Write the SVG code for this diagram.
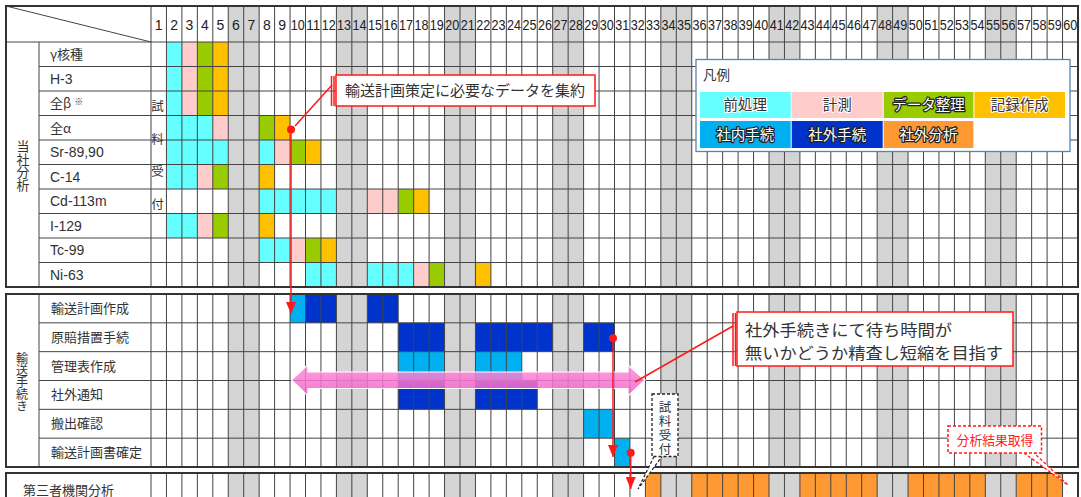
<svg xmlns="http://www.w3.org/2000/svg" width="1081" height="497" viewBox="0 0 1081 497">
<defs>
<style>
.gy{fill:#d4d4d4}
.cy{fill:#66ffff}.pk{fill:#ffcccc}.gr{fill:#99cc00}.yl{fill:#ffc000}.lb{fill:#00b0f0}.db{fill:#0033cc}.or{fill:#ff9933}
.grid{stroke:#444;stroke-width:1;fill:none}
.bd{stroke:#333;stroke-width:2;fill:none}
.jp{font-family:"Noto Sans CJK JP","Liberation Sans",sans-serif}
.num{font-family:"Liberation Sans","DejaVu Sans",sans-serif;font-size:14px;fill:#222}
.lbl{font-size:13px;fill:#333}
.lat{font-family:"Liberation Sans","Noto Sans CJK JP",sans-serif;font-size:14px;fill:#333}
.lg{font-size:14.5px;text-anchor:middle}
.wt{fill:#fff;stroke:#222;stroke-width:2.5;paint-order:stroke;stroke-linejoin:round}
.dk{fill:#333;stroke:#fff;stroke-width:2;paint-order:stroke}
.rl{stroke:#ff1a1a;stroke-width:1.5;fill:none}
.rd{fill:#ff1a1a}
.vt{writing-mode:vertical-rl;fill:#333}
</style>
<marker id="ah" markerUnits="userSpaceOnUse" markerWidth="13" markerHeight="10" refX="12" refY="5" orient="auto">
<path d="M0,0 L12,5 L0,10 z" fill="#ff1a1a"/>
</marker>
<linearGradient id="pg" x1="0" y1="0" x2="0" y2="1">
<stop offset="0" stop-color="#ff8fdc"/>
<stop offset="1" stop-color="#f25fc8"/>
</linearGradient>
</defs>
<rect x="0" y="0" width="1081" height="497" fill="#fff"/>

<g id="weekend-columns" class="gy" transform="translate(151 0) scale(15.45 1)">
<rect x="5" y="6" width="2" height="491"/><rect x="12" y="6" width="2" height="491"/>
<rect x="19" y="6" width="2" height="491"/><rect x="26" y="6" width="2" height="491"/>
<rect x="33" y="6" width="2" height="491"/><rect x="40" y="6" width="2" height="491"/>
<rect x="47" y="6" width="2" height="491"/><rect x="54" y="6" width="2" height="491"/>
</g>

<g id="in-house-cells" transform="translate(151 42) scale(15.45 24.5)">
<g id="row-gamma"><rect class="cy" x="1" y="0" width="1" height="1"/><rect class="pk" x="2" y="0" width="1" height="1"/><rect class="gr" x="3" y="0" width="1" height="1"/><rect class="yl" x="4" y="0" width="1" height="1"/></g>
<g id="row-h3"><rect class="cy" x="1" y="1" width="1" height="1"/><rect class="pk" x="2" y="1" width="1" height="1"/><rect class="gr" x="3" y="1" width="1" height="1"/><rect class="yl" x="4" y="1" width="1" height="1"/></g>
<g id="row-beta"><rect class="cy" x="1" y="2" width="1" height="1"/><rect class="pk" x="2" y="2" width="1" height="1"/><rect class="gr" x="3" y="2" width="1" height="1"/><rect class="yl" x="4" y="2" width="1" height="1"/></g>
<g id="row-alpha"><rect class="cy" x="1" y="3" width="3" height="1"/><rect class="pk" x="4" y="3" width="1" height="1"/><rect class="gr" x="7" y="3" width="1" height="1"/><rect class="yl" x="8" y="3" width="1" height="1"/></g>
<g id="row-sr"><rect class="cy" x="1" y="4" width="4" height="1"/><rect class="cy" x="7" y="4" width="1" height="1"/><rect class="pk" x="8" y="4" width="1" height="1"/><rect class="gr" x="9" y="4" width="1" height="1"/><rect class="yl" x="10" y="4" width="1" height="1"/></g>
<g id="row-c14"><rect class="cy" x="1" y="5" width="2" height="1"/><rect class="pk" x="3" y="5" width="1" height="1"/><rect class="gr" x="4" y="5" width="1" height="1"/><rect class="yl" x="7" y="5" width="1" height="1"/></g>
<g id="row-cd"><rect class="cy" x="7" y="6" width="5" height="1"/><rect class="pk" x="14" y="6" width="2" height="1"/><rect class="gr" x="16" y="6" width="1" height="1"/><rect class="yl" x="17" y="6" width="1" height="1"/></g>
<g id="row-i129"><rect class="cy" x="1" y="7" width="2" height="1"/><rect class="pk" x="3" y="7" width="1" height="1"/><rect class="gr" x="4" y="7" width="1" height="1"/><rect class="yl" x="7" y="7" width="1" height="1"/></g>
<g id="row-tc"><rect class="cy" x="7" y="8" width="2" height="1"/><rect class="pk" x="9" y="8" width="1" height="1"/><rect class="gr" x="10" y="8" width="1" height="1"/><rect class="yl" x="11" y="8" width="1" height="1"/></g>
<g id="row-ni"><rect class="cy" x="10" y="9" width="2" height="1"/><rect class="cy" x="14" y="9" width="3" height="1"/><rect class="pk" x="17" y="9" width="1" height="1"/><rect class="gr" x="18" y="9" width="1" height="1"/><rect class="yl" x="21" y="9" width="1" height="1"/></g>
</g>

<g id="transport-cells" transform="translate(151 294) scale(15.45 28.833)">
<g id="row-plan"><rect class="lb" x="9" y="0" width="1" height="1"/><rect class="db" x="10" y="0" width="2" height="1"/><rect class="db" x="14" y="0" width="2" height="1"/></g>
<g id="row-gensho"><rect class="db" x="16" y="1" width="3" height="1"/><rect class="db" x="21" y="1" width="5" height="1"/><rect class="db" x="28" y="1" width="2" height="1"/></g>
<g id="row-kanri"><rect class="lb" x="16" y="2" width="3" height="1"/><rect class="lb" x="21" y="2" width="3" height="1"/></g>
<g id="row-tsuchi"><rect class="db" x="16" y="3" width="3" height="1"/><rect class="db" x="21" y="3" width="4" height="1"/></g>
<g id="row-hanshutsu"><rect class="lb" x="28" y="4" width="2" height="1"/></g>
<g id="row-kakutei"><rect class="lb" x="30" y="5" width="1" height="1"/></g>
</g>

<g id="third-party-cells" class="or" transform="translate(151 473) scale(15.45 1)">
<rect x="32" y="0" width="1" height="24"/><rect x="35" y="0" width="5" height="24"/><rect x="42" y="0" width="5" height="24"/><rect x="49" y="0" width="5" height="24"/><rect x="56" y="0" width="3" height="24"/>
</g>

<g id="grid">
<path class="grid" d="M151 6V497M166.45 6V497M181.9 6V497M197.35 6V497M212.8 6V497M228.25 6V497M243.7 6V497M259.15 6V497M274.6 6V497M290.05 6V497M305.5 6V497M320.95 6V497M336.4 6V497M351.85 6V497M367.3 6V497M382.75 6V497M398.2 6V497M413.65 6V497M429.1 6V497M444.55 6V497M460 6V497M475.45 6V497M490.9 6V497M506.35 6V497M521.8 6V497M537.25 6V497M552.7 6V497M568.15 6V497M583.6 6V497M599.05 6V497M614.5 6V497M629.95 6V497M645.4 6V497M660.85 6V497M676.3 6V497M691.75 6V497M707.2 6V497M722.65 6V497M738.1 6V497M753.55 6V497M769 6V497M784.45 6V497M799.9 6V497M815.35 6V497M830.8 6V497M846.25 6V497M861.7 6V497M877.15 6V497M892.6 6V497M908.05 6V497M923.5 6V497M938.95 6V497M954.4 6V497M969.85 6V497M985.3 6V497M1000.75 6V497M1016.2 6V497M1031.65 6V497M1047.1 6V497M1062.55 6V497"/>
<path class="grid" d="M6 42H1078M39 66.5H1078M39 91H1078M39 115.5H1078M39 140H1078M39 164.5H1078M39 189H1078M39 213.5H1078M39 238H1078M39 262.5H1078M39 42V287M6 6L151 42"/>
<path class="grid" d="M39 322.83H1078M39 351.67H1078M39 380.5H1078M39 409.33H1078M39 438.17H1078M39 294V467"/>
<rect x="0" y="288" width="1081" height="5" fill="#fff"/>
<rect x="0" y="468" width="1081" height="4" fill="#fff"/>
<rect class="bd" x="6" y="6" width="1072" height="281"/>
<rect class="bd" x="6" y="294" width="1072" height="173"/>
<rect class="bd" x="6" y="473" width="1072" height="30"/>
</g>

<g id="day-numbers" class="num">
<text x="154.7" y="30">1</text><text x="170.2" y="30">2</text><text x="185.6" y="30">3</text><text x="201.1" y="30">4</text><text x="216.5" y="30">5</text><text x="232" y="30">6</text><text x="247.4" y="30">7</text><text x="262.9" y="30">8</text><text x="278.3" y="30">9</text>
<text x="290.8" y="30" textLength="14" lengthAdjust="spacingAndGlyphs">10</text><text x="306.2" y="30" textLength="14" lengthAdjust="spacingAndGlyphs">11</text><text x="321.7" y="30" textLength="14" lengthAdjust="spacingAndGlyphs">12</text><text x="337.1" y="30" textLength="14" lengthAdjust="spacingAndGlyphs">13</text><text x="352.6" y="30" textLength="14" lengthAdjust="spacingAndGlyphs">14</text><text x="368" y="30" textLength="14" lengthAdjust="spacingAndGlyphs">15</text><text x="383.5" y="30" textLength="14" lengthAdjust="spacingAndGlyphs">16</text><text x="398.9" y="30" textLength="14" lengthAdjust="spacingAndGlyphs">17</text><text x="414.4" y="30" textLength="14" lengthAdjust="spacingAndGlyphs">18</text><text x="429.8" y="30" textLength="14" lengthAdjust="spacingAndGlyphs">19</text>
<text x="445.3" y="30" textLength="14" lengthAdjust="spacingAndGlyphs">20</text><text x="460.7" y="30" textLength="14" lengthAdjust="spacingAndGlyphs">21</text><text x="476.2" y="30" textLength="14" lengthAdjust="spacingAndGlyphs">22</text><text x="491.6" y="30" textLength="14" lengthAdjust="spacingAndGlyphs">23</text><text x="507.1" y="30" textLength="14" lengthAdjust="spacingAndGlyphs">24</text><text x="522.5" y="30" textLength="14" lengthAdjust="spacingAndGlyphs">25</text><text x="538" y="30" textLength="14" lengthAdjust="spacingAndGlyphs">26</text><text x="553.4" y="30" textLength="14" lengthAdjust="spacingAndGlyphs">27</text><text x="568.9" y="30" textLength="14" lengthAdjust="spacingAndGlyphs">28</text><text x="584.3" y="30" textLength="14" lengthAdjust="spacingAndGlyphs">29</text>
<text x="599.8" y="30" textLength="14" lengthAdjust="spacingAndGlyphs">30</text><text x="615.2" y="30" textLength="14" lengthAdjust="spacingAndGlyphs">31</text><text x="630.7" y="30" textLength="14" lengthAdjust="spacingAndGlyphs">32</text><text x="646.1" y="30" textLength="14" lengthAdjust="spacingAndGlyphs">33</text><text x="661.6" y="30" textLength="14" lengthAdjust="spacingAndGlyphs">34</text><text x="677" y="30" textLength="14" lengthAdjust="spacingAndGlyphs">35</text><text x="692.5" y="30" textLength="14" lengthAdjust="spacingAndGlyphs">36</text><text x="707.9" y="30" textLength="14" lengthAdjust="spacingAndGlyphs">37</text><text x="723.4" y="30" textLength="14" lengthAdjust="spacingAndGlyphs">38</text><text x="738.8" y="30" textLength="14" lengthAdjust="spacingAndGlyphs">39</text>
<text x="754.3" y="30" textLength="14" lengthAdjust="spacingAndGlyphs">40</text><text x="769.7" y="30" textLength="14" lengthAdjust="spacingAndGlyphs">41</text><text x="785.2" y="30" textLength="14" lengthAdjust="spacingAndGlyphs">42</text><text x="800.6" y="30" textLength="14" lengthAdjust="spacingAndGlyphs">43</text><text x="816.1" y="30" textLength="14" lengthAdjust="spacingAndGlyphs">44</text><text x="831.5" y="30" textLength="14" lengthAdjust="spacingAndGlyphs">45</text><text x="847" y="30" textLength="14" lengthAdjust="spacingAndGlyphs">46</text><text x="862.4" y="30" textLength="14" lengthAdjust="spacingAndGlyphs">47</text><text x="877.9" y="30" textLength="14" lengthAdjust="spacingAndGlyphs">48</text><text x="893.3" y="30" textLength="14" lengthAdjust="spacingAndGlyphs">49</text>
<text x="908.8" y="30" textLength="14" lengthAdjust="spacingAndGlyphs">50</text><text x="924.2" y="30" textLength="14" lengthAdjust="spacingAndGlyphs">51</text><text x="939.7" y="30" textLength="14" lengthAdjust="spacingAndGlyphs">52</text><text x="955.1" y="30" textLength="14" lengthAdjust="spacingAndGlyphs">53</text><text x="970.6" y="30" textLength="14" lengthAdjust="spacingAndGlyphs">54</text><text x="986" y="30" textLength="14" lengthAdjust="spacingAndGlyphs">55</text><text x="1001.5" y="30" textLength="14" lengthAdjust="spacingAndGlyphs">56</text><text x="1016.9" y="30" textLength="14" lengthAdjust="spacingAndGlyphs">57</text><text x="1032.4" y="30" textLength="14" lengthAdjust="spacingAndGlyphs">58</text><text x="1047.8" y="30" textLength="14" lengthAdjust="spacingAndGlyphs">59</text>
<text x="1063.3" y="30" textLength="14" lengthAdjust="spacingAndGlyphs">60</text>
</g>

<g id="category-labels" class="jp">
<text class="vt" x="23" y="140" font-size="13">当社分析</text>
<text class="vt" x="22" y="352" font-size="12" letter-spacing="0.2">輸送手続き</text>
<text class="vt" x="157.5" y="100" font-size="12.5" letter-spacing="20.2">試料受付</text>
</g>

<g id="item-labels">
<text class="jp lbl" x="50" y="59">γ核種</text>
<text class="lat" x="50" y="83.5">H-3</text>
<text class="jp lbl" x="50" y="108">全β <tspan font-size="9" dy="-3">※</tspan></text>
<text class="jp lbl" x="50" y="132.5">全α</text>
<text class="lat" x="50" y="157">Sr-89,90</text>
<text class="lat" x="50" y="181.5">C-14</text>
<text class="lat" x="50" y="206">Cd-113m</text>
<text class="lat" x="50" y="230.5">I-129</text>
<text class="lat" x="50" y="255">Tc-99</text>
<text class="lat" x="50" y="279.5">Ni-63</text>
<text class="jp lbl" x="51" y="313">輸送計画作成</text>
<text class="jp lbl" x="51" y="341.8">原賠措置手続</text>
<text class="jp lbl" x="51" y="370.6">管理表作成</text>
<text class="jp lbl" x="51" y="399.4">社外通知</text>
<text class="jp lbl" x="51" y="428.2">搬出確認</text>
<text class="jp lbl" x="51" y="457">輸送計画書確定</text>
<text class="jp lbl" x="23" y="494.5">第三者機関分析</text>
</g>

<g id="legend">
<rect x="696" y="59.5" width="374" height="92" fill="#fff" stroke="#5585b5" stroke-width="1.3"/>
<text class="jp" x="703" y="80" font-size="13.5" fill="#333">凡例</text>
<rect class="cy" x="700" y="92" width="90.7" height="26"/>
<rect class="pk" x="791.7" y="92" width="91" height="26"/>
<rect class="gr" x="883.7" y="92" width="89.7" height="26"/>
<rect class="yl" x="974.4" y="92" width="90.6" height="26"/>
<rect class="lb" x="700" y="121" width="90.7" height="27"/>
<rect class="db" x="791.7" y="121" width="91" height="27"/>
<rect class="or" x="883.7" y="121" width="89.7" height="27"/>
<g class="jp lg">
<text class="dk" x="745.3" y="110">前処理</text>
<text class="dk" x="837.2" y="110">計測</text>
<text class="wt" x="928.5" y="110">データ整理</text>
<text class="dk" x="1019.7" y="110">記録作成</text>
<text class="wt" x="745.3" y="139.5">社内手続</text>
<text class="wt" x="837.2" y="139.5">社外手続</text>
<text class="wt" x="928.5" y="139.5">社外分析</text>
</g>
</g>

<g id="shorten-arrow">
<polygon points="291.5,380 308,364.5 308,372 628,372 628,365 645,380 628,396 628,388.5 308,388.5 308,396" fill="url(#pg)" fill-opacity="0.85" stroke="#fff" stroke-width="1.2"/>
</g>

<g id="callout-data">
<rect x="336" y="75" width="259" height="31" fill="#fff" stroke="#ff1a1a" stroke-width="1.5"/>
<text class="jp" x="345" y="96" font-size="15" fill="#333">輸送計画策定に必要なデータを集約</text>
</g>

<g id="callout-shorten">
<rect x="737" y="312" width="276" height="54" fill="#fff" stroke="#ff1a1a" stroke-width="1.5"/>
<text class="jp" x="745" y="335.5" font-size="16" fill="#333" textLength="207" lengthAdjust="spacingAndGlyphs">社外手続きにて待ち時間が</text>
<text class="jp" x="745" y="358.8" font-size="16" fill="#333" textLength="258" lengthAdjust="spacingAndGlyphs">無いかどうか精査し短縮を目指す</text>
</g>

<g id="callout-receipt">
<path d="M654 456.5 L638 489 L662 456.5" fill="#fff" stroke="#222" stroke-width="1.2" stroke-dasharray="3 2"/>
<rect x="652" y="394" width="26" height="62.5" fill="#fff" stroke="#222" stroke-width="1.3" stroke-dasharray="3 2"/>
<text class="jp vt" x="665" y="401" font-size="12.5" letter-spacing="1.5">試料受付</text>
</g>

<g id="callout-result">
<path d="M1024 453 L1068 485 L1034 453" fill="#fff" stroke="#ff1a1a" stroke-width="1.3" stroke-dasharray="3 2"/>
<rect x="948" y="426" width="93.5" height="27" fill="#fff" stroke="#ff1a1a" stroke-width="1.5" stroke-dasharray="3 2"/>
<text class="jp" x="995" y="444.5" font-size="12.8" fill="#ff1a1a" text-anchor="middle">分析結果取得</text>
</g>

<g id="connectors">
<path class="rl" d="M331.5 76V106M334 76V106"/>
<path class="rl" d="M332 85L295 126"/>
<path class="rl" d="M733 313V366M735.5 313V366"/>
<path class="rl" d="M733 326L635 382"/>
<circle class="rd" cx="291" cy="129.5" r="4"/>
<line class="rl" x1="291" y1="129.5" x2="291" y2="314" marker-end="url(#ah)"/>
<circle class="rd" cx="613" cy="338.3" r="4"/>
<line class="rl" x1="613" y1="338.3" x2="613" y2="457" marker-end="url(#ah)"/>
<circle class="rd" cx="630.7" cy="452.7" r="4"/>
<line class="rl" x1="630.7" y1="452.7" x2="630.7" y2="489" marker-end="url(#ah)"/>
</g>
</svg>
